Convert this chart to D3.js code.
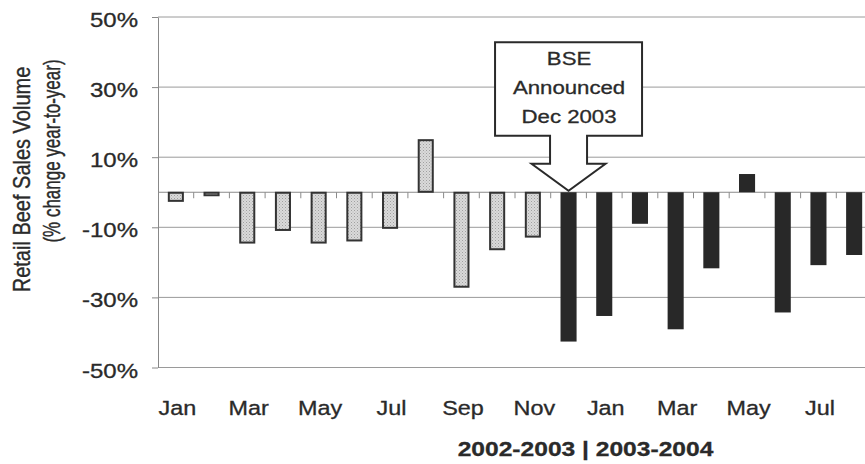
<!DOCTYPE html>
<html><head><meta charset="utf-8">
<script src="https://cdn.jsdelivr.net/npm/d3@7"></script>
<style>
html,body{margin:0;padding:0;background:#fff;}
svg{display:block;font-family:"Liberation Sans",Arial,Helvetica,sans-serif;}
svg text{stroke:#2a2a2a;stroke-width:0.3px;}
</style></head><body>
<svg id="chart" width="865" height="464"></svg>
<script>
// ---- data ----
const categories = ["Jan 2003","Feb 2003","Mar 2003","Apr 2003","May 2003","Jun 2003","Jul 2003","Aug 2003","Sep 2003","Oct 2003","Nov 2003",
                    "Dec 2003","Jan 2004","Feb 2004","Mar 2004","Apr 2004","May 2004","Jun 2004","Jul 2004","Aug 2004"];
const monthLabels = ["Jan","Feb","Mar","Apr","May","Jun","Jul","Aug","Sep","Oct","Nov",
                     "Dec","Jan","Feb","Mar","Apr","May","Jun","Jul","Aug"];
const values = [-2.6,-1.0,-14.5,-10.9,-14.5,-13.9,-10.3,15.0,-27.1,-16.4,-12.8,
                -42.6,-35.3,-9.0,-39.1,-21.7,5.2,-34.3,-20.8,-17.9];
const periods = ["2002-2003","2002-2003","2002-2003","2002-2003","2002-2003","2002-2003","2002-2003","2002-2003","2002-2003","2002-2003","2002-2003",
                 "2003-2004","2003-2004","2003-2004","2003-2004","2003-2004","2003-2004","2003-2004","2003-2004","2003-2004"];
const shownTickLabels = ["Jan 2003","Mar 2003","May 2003","Jul 2003","Sep 2003","Nov 2003","Jan 2004","Mar 2004","May 2004","Jul 2004"];
const yTicks = [-50,-30,-10,10,30,50];
const yTitleLines = ["Retail Beef Sales Volume","(% change year-to-year)"];
const xTitle = "2002-2003 | 2003-2004";
const annotationCategory = "Dec 2003";
const annotationLines = ["BSE","Announced","Dec 2003"];

(function(){
// ---- layout ----
const SX = 1.2; // horizontal text stretch seen in the reference
const svg = d3.select("#chart");
const textColor = "#2a2a2a";

const defs = svg.append("defs");
const pat = defs.append("pattern").attr("id","stip").attr("width",3).attr("height",3)
  .attr("patternUnits","userSpaceOnUse");
pat.append("rect").attr("width",3).attr("height",3).attr("fill","#dadada");
pat.append("rect").attr("x",0).attr("y",0).attr("width",1).attr("height",1).attr("fill","#a0a0a0");
pat.append("rect").attr("x",1.5).attr("y",1.5).attr("width",1).attr("height",1).attr("fill","#b4b4b4");

const x = d3.scaleBand().domain(categories).range([158, 872]).paddingInner(0.55).paddingOuter(0.275);
const y = d3.scaleLinear().domain([-50, 50]).range([367.5, 17]);

// gridlines
svg.append("g").selectAll("line").data(yTicks).join("line")
  .attr("x1",158).attr("x2",872)
  .attr("y1",d=>y(d)).attr("y2",d=>y(d))
  .attr("stroke","#9a9a9a").attr("stroke-width",1);

// y axis
const yAxis = d3.axisLeft(y).tickValues(yTicks).tickSize(6).tickSizeOuter(0).tickFormat(d=>d+"%");
const yg = svg.append("g").attr("transform","translate(158,0)").call(yAxis);
yg.attr("font-family",null).attr("font-size",null);
yg.select(".domain").attr("stroke","#888");
yg.selectAll(".tick line").attr("stroke","#888");
yg.selectAll(".tick text")
  .attr("x",-20/SX).attr("dy",null).attr("y",9.5)
  .attr("transform",`scale(${SX},1)`)
  .attr("font-size",20).attr("fill",textColor);

// zero line with category-boundary ticks
svg.append("line").attr("x1",158).attr("x2",872).attr("y1",y(0)).attr("y2",y(0))
  .attr("stroke","#8a8a8a").attr("stroke-width",1);
const step = x.step(), off = (step - x.bandwidth())/2;
svg.append("g").selectAll("line").data(categories.slice(1)).join("line")
  .attr("x1",d=>x(d)-off).attr("x2",d=>x(d)-off)
  .attr("y1",y(0)).attr("y2",y(0)+6)
  .attr("stroke","#8a8a8a").attr("stroke-width",1);

// bars
const data = categories.map((c,i)=>({c, v:values[i], p:periods[i]}));
svg.append("g").selectAll("rect").data(data).join("rect")
  .attr("x",d=> d.p==="2002-2003" ? x(d.c)+1 : x(d.c))
  .attr("width",d=> d.p==="2002-2003" ? x.bandwidth()-2 : x.bandwidth())
  .attr("y",d=>Math.min(y(d.v),y(0)) + (d.p==="2002-2003"?0.5:0))
  .attr("height",d=>Math.abs(y(d.v)-y(0)) - (d.p==="2002-2003"?1:0))
  .attr("fill",d=> d.p==="2002-2003" ? "url(#stip)" : "#282828")
  .attr("stroke",d=> d.p==="2002-2003" ? "#333" : "none")
  .attr("stroke-width",2);

// x tick labels
svg.append("g").selectAll("text").data(shownTickLabels).join("text")
  .attr("transform",d=>`translate(${x(d)+x.bandwidth()/2+1.5},415) scale(${SX},1)`)
  .attr("text-anchor","middle").attr("font-size",19.5).attr("fill",textColor)
  .text(d=>monthLabels[categories.indexOf(d)]);

// x title
svg.append("text").attr("transform",`translate(585.5,455.5) scale(1.2,1)`)
  .attr("text-anchor","middle").attr("font-size",20.5).attr("font-weight","bold").attr("fill",textColor)
  .text(xTitle);

// y title
svg.append("text").attr("transform",`translate(29.5,179.5) scale(${SX},1) rotate(-90)`)
  .attr("text-anchor","middle").attr("font-size",20).attr("fill",textColor).text(yTitleLines[0]);
svg.append("text").attr("transform",`translate(60,151) scale(1.42,1) rotate(-90)`)
  .attr("text-anchor","middle").attr("font-size",17).attr("fill",textColor).text(yTitleLines[1]);

// annotation callout
const tx = x(annotationCategory) + x.bandwidth()/2, ty = y(0) - 1.5;
const bL = tx-73.5, bR = tx+73.5, bT = ty-148.5, boxB = ty-55, headB = ty-27;
const p = d3.path();
p.moveTo(bL, bT); p.lineTo(bR, bT); p.lineTo(bR, boxB);
p.lineTo(tx+18.5, boxB); p.lineTo(tx+18.5, headB); p.lineTo(tx+37, headB);
p.lineTo(tx, ty); p.lineTo(tx-37, headB); p.lineTo(tx-18.5, headB);
p.lineTo(tx-18.5, boxB); p.lineTo(bL, boxB); p.closePath();
svg.append("path").attr("d",p.toString()).attr("fill","#fff").attr("stroke","#2a2a2a")
  .attr("stroke-width",2).attr("stroke-linejoin","miter");
svg.append("g").selectAll("text").data(annotationLines).join("text")
  .attr("transform",(d,i)=>`translate(${tx+0.5},${ty-126+i*29}) scale(${SX},1)`)
  .attr("text-anchor","middle").attr("font-size",18.5).attr("fill",textColor).text(d=>d);
})();
</script>
</body></html>
